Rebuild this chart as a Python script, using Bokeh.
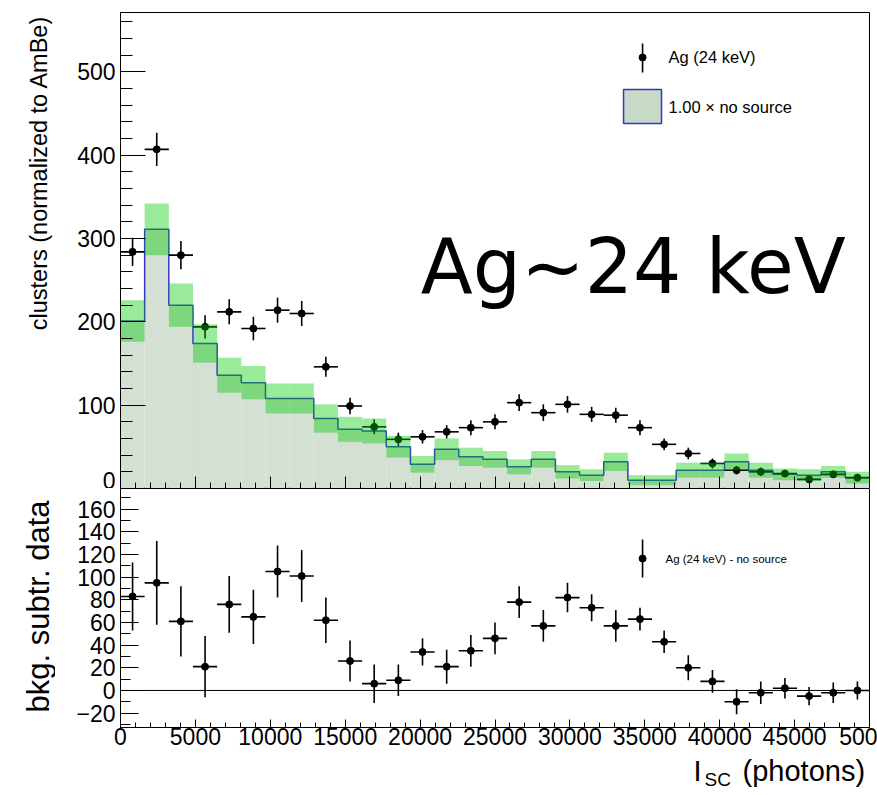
import numpy as np
from bokeh.plotting import figure
from bokeh.models import Range1d, SingleIntervalTicker, Label, Span
from bokeh.layouts import column, row
from bokeh.embed import file_html
from bokeh.resources import INLINE

# ---------------- data ----------------
N_BINS = 31
X_MIN, X_MAX = 0, 50000

ag_counts = [284, 407, 280, 194, 212, 192, 214, 210, 146, 99, 74, 59, 62, 68, 73,
             80, 103, 91, 101, 89, 88, 73, 53, 42, 30, 22, 20, 18, 11, 17, 13]
ag_errors = [17, 20, 17, 14, 15, 14, 15, 15, 12, 10, 9, 8, 8, 8, 9,
             9, 10, 10, 10, 9, 9, 9, 7, 7, 6, 5, 5, 4, 4, 4, 4]
nosrc_counts = [201, 311, 220, 174, 136, 127, 108, 108, 84, 71, 69, 50, 29, 47, 38,
                35, 26, 35, 20, 16, 32, 10, 10, 22, 22, 32, 22, 17, 16, 20, 13]
nosrc_band = [25, 31, 26, 23, 21, 20, 18, 18, 17, 15, 15, 13, 10, 13, 11,
              10, 9, 10, 8, 7, 11, 6, 6, 9, 9, 10, 9, 7, 7, 7, 7]
sub_values = [83, 95, 61, 21, 76, 65, 105, 101, 62, 26, 6, 9, 34, 21, 35,
              46, 78, 57, 82, 73, 57, 63, 43, 20, 8, -10, -2, 2, -5, -2, 0]
sub_errors = [30, 37, 31, 27, 25, 24, 23, 23, 20, 18, 17, 14, 12, 15, 14,
              14, 14, 14, 13, 12, 14, 10, 10, 11, 10, 11, 10, 9, 8, 9, 8]

# the "50000" label is cut at the right edge in the reference, showing "500"
x_tick_labels = {0: "0", 5000: "5000", 10000: "10000", 15000: "15000", 20000: "20000",
                 25000: "25000", 30000: "30000", 35000: "35000", 40000: "40000",
                 45000: "45000", 50000: "500"}

TOP_Y = (0, 571.2)
BOT_Y = (-32.7, 178.3)

edges = np.linspace(X_MIN, X_MAX, N_BINS + 1)
left, right = edges[:-1], edges[1:]
centers = 0.5 * (left + right)

FONT = "Liberation Sans"

ag = np.array(ag_counts, float)
age = np.array(ag_errors, float)
ns = np.array(nosrc_counts, float)
nse = np.array(nosrc_band, float)
sb = np.array(sub_values, float)
sbe = np.array(sub_errors, float)


def fx(f):
    return X_MIN + f * (X_MAX - X_MIN)


def fy(f, rng):
    return rng[0] + f * (rng[1] - rng[0])


def style_axes(p):
    p.xgrid.visible = False
    p.ygrid.visible = False
    p.outline_line_color = "black"
    p.outline_line_width = 1
    p.background_fill_color = "white"
    p.border_fill_color = "white"
    for ax in (p.xaxis[0], p.yaxis[0]):
        ax.axis_line_color = "black"
        ax.major_tick_line_color = "black"
        ax.minor_tick_line_color = "black"
        ax.major_tick_out = 0
        ax.minor_tick_out = 0
        ax.major_label_text_font = FONT
        ax.major_label_text_color = "black"


def blank(p):
    p.outline_line_color = None
    p.background_fill_color = "white"
    p.border_fill_color = "white"
    for g in p.grid:
        g.visible = False


def label(p, x, y, text, size, align="left", angle=0.0, font=FONT):
    p.add_layout(Label(x=x, y=y, text=text, text_font=font, text_font_size=size,
                       text_baseline="middle", text_align=align, angle=angle,
                       text_color="black"))


STRIP_W = 55
W = 877 - STRIP_W
LB = 120 - STRIP_W
RB = 8
H_TOP, H_BOT, H_XT = 488, 266, 39
H_ALL = H_TOP + H_BOT + H_XT

# ---------------- top panel ----------------
top = figure(width=W, height=H_TOP, x_range=Range1d(X_MIN, X_MAX), y_range=Range1d(*TOP_Y),
             output_backend="svg", toolbar_location=None,
             min_border_left=LB, min_border_right=RB, min_border_top=12, min_border_bottom=0)
style_axes(top)

top.quad(left=left, right=right, bottom=0, top=ns, fill_color="#d3e0d3", line_color=None)
top.step(x=list(edges), y=list(ns) + [ns[-1]], mode="after", line_color="#3535c8", line_width=1.5)

top.segment(x0=centers, x1=centers, y0=ag - age, y1=ag + age, line_color="black", line_width=1.6)
top.segment(x0=left, x1=right, y0=ag, y1=ag, line_color="black", line_width=1.6)
top.scatter(x=centers, y=ag, size=7, color="black")

top.quad(left=left, right=right, bottom=ns - nse, top=ns + nse,
         fill_color=(0, 202, 0), fill_alpha=0.4, line_color=None)

yax = top.yaxis[0]
yax.ticker = SingleIntervalTicker(interval=100, num_minor_ticks=5)
yax.major_tick_in = 25
yax.minor_tick_in = 12
yax.major_label_text_font_size = "23px"
yax.major_label_standoff = 5

xax = top.xaxis[0]
xax.ticker = SingleIntervalTicker(interval=5000, num_minor_ticks=5)
xax.major_tick_in = 12
xax.minor_tick_in = 6
xax.fixed_location = TOP_Y[0]
xax.major_label_text_color = None
xax.major_label_standoff = 0

# legend (top)
top.segment(x0=[fx(0.697)], x1=[fx(0.697)], y0=[fy(0.874, TOP_Y)], y1=[fy(0.935, TOP_Y)],
            line_color="black", line_width=1.6)
top.scatter(x=[fx(0.697)], y=[fy(0.9055, TOP_Y)], size=7, color="black")
label(top, fx(0.7316), fy(0.9055, TOP_Y), "Ag (24 keV)", "16.5px")
top.quad(left=[fx(0.6716)], right=[fx(0.7223)], bottom=[fy(0.767, TOP_Y)], top=[fy(0.838, TOP_Y)],
         fill_color="#c7d9c7", line_color="#3535c8", line_width=1.5)
label(top, fx(0.7316), fy(0.8025, TOP_Y), "1.00 \u00d7 no source", "16.5px")

label(top, fx(0.401), fy(0.466, TOP_Y), "Ag~24 keV", "76px", font="DejaVu Sans")

# ---------------- bottom panel ----------------
bot = figure(width=W, height=H_BOT, x_range=top.x_range, y_range=Range1d(*BOT_Y),
             output_backend="svg", toolbar_location=None,
             min_border_left=LB, min_border_right=RB, min_border_top=0, min_border_bottom=27)
style_axes(bot)

bot.add_layout(Span(location=0, dimension="width", line_color="black", line_width=1))
bot.segment(x0=centers, x1=centers, y0=sb - sbe, y1=sb + sbe, line_color="black", line_width=1.6)
bot.segment(x0=left, x1=right, y0=sb, y1=sb, line_color="black", line_width=1.6)
bot.scatter(x=centers, y=sb, size=7, color="black")

byax = bot.yaxis[0]
byax.ticker = SingleIntervalTicker(interval=20, num_minor_ticks=2)
byax.major_tick_in = 18
byax.minor_tick_in = 10
byax.major_label_text_font_size = "23px"
byax.major_label_standoff = 5

bxax = bot.xaxis[0]
bxax.ticker = SingleIntervalTicker(interval=5000, num_minor_ticks=5)
bxax.major_tick_in = 8
bxax.minor_tick_in = 5
bxax.major_label_text_font_size = "23px"
bxax.major_label_standoff = 0
bxax.major_label_overrides = x_tick_labels

# legend (bottom)
bot.segment(x0=[fx(0.697)], x1=[fx(0.697)], y0=[fy(0.628, BOT_Y)], y1=[fy(0.787, BOT_Y)],
            line_color="black", line_width=1.6)
bot.scatter(x=[fx(0.697)], y=[fy(0.707, BOT_Y)], size=7, color="black")
label(bot, fx(0.7276), fy(0.707, BOT_Y), "Ag (24 keV) - no source", "11.5px")

# ---------------- x-axis title strip ----------------
xstrip = figure(width=W, height=H_XT, x_range=top.x_range, y_range=Range1d(0, 1),
                output_backend="svg", toolbar_location=None,
                x_axis_location=None, y_axis_location=None,
                min_border_left=LB, min_border_right=RB, min_border_top=0, min_border_bottom=0)
blank(xstrip)
label(xstrip, fx(0.7650), 0.585, "I", "29px")
label(xstrip, fx(0.7797), 0.349, "SC", "19px")
label(xstrip, fx(0.8305), 0.585, "(photons)", "29px")

# ---------------- y-axis title strip ----------------
ystrip = figure(width=STRIP_W, height=H_ALL, x_range=Range1d(0, STRIP_W), y_range=Range1d(0, H_ALL),
                output_backend="svg", toolbar_location=None,
                x_axis_location=None, y_axis_location=None,
                min_border_left=0, min_border_right=0, min_border_top=0, min_border_bottom=0)
blank(ystrip)
label(ystrip, 38, H_ALL - 15, "clusters (normalized to AmBe)", "23.5px", align="right", angle=np.pi / 2)
label(ystrip, 38, H_ALL - 606, "bkg. subtr. data", "31px", align="center", angle=np.pi / 2)

layout = row(ystrip, column(top, bot, xstrip, spacing=0), spacing=0)
open("out.html", "w").write(file_html(layout, INLINE))
